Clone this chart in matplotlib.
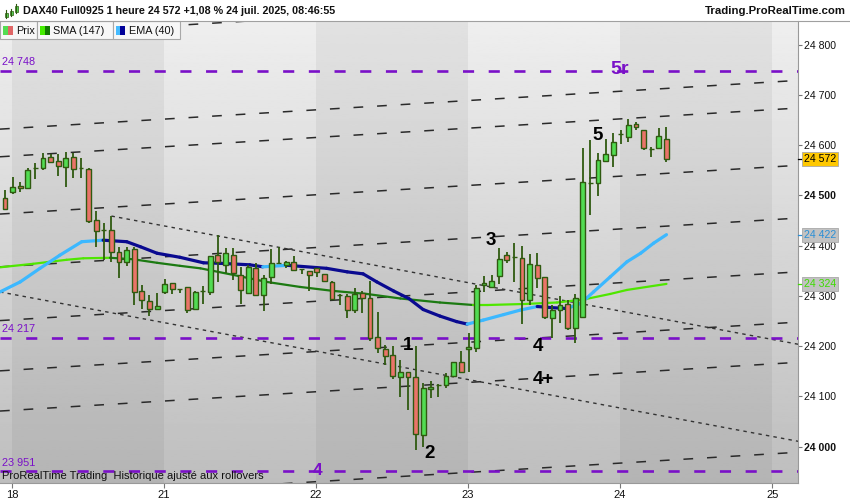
import matplotlib
matplotlib.use('Agg')
import matplotlib.pyplot as plt
import numpy as np
from matplotlib.patches import Rectangle
from matplotlib.lines import Line2D
from matplotlib.collections import LineCollection
from matplotlib.transforms import blended_transform_factory

plt.rcParams['font.family'] = ['Liberation Sans', 'DejaVu Sans']
plt.rcParams['lines.scale_dashes'] = False

# hourly bars, index 0 = last bar before the 18 juil. session
opens = [24494, 24507, 24519, 24514, 24554, 24555, 24576, 24569, 24557, 24576,
         24554, 24553, 24452, 24431, 24431, 24388, 24368, 24393, 24310, 24290,
         24274, 24308, 24325, 24314, 24318, 24275, 24310, 24308, 24381, 24362,
         24381, 24342, 24306, 24355, 24302, 24337, 24365, 24362, 24368, 24353,
         24350, 24355, 24343, 24327, 24302, 24299, 24273, 24305, 24295, 24218,
         24194, 24183, 24139, 24148, 24139, 24023, 24115, 24123, 24123, 24141,
         24169, 24194, 24196, 24322, 24317, 24340, 24382, 24377, 24375, 24292,
         24362, 24337, 24256, 24272, 24285, 24236, 24259, 24525, 24525, 24569,
         24581, 24622, 24617, 24642, 24630, 24592, 24594, 24612]
highs = [24511, 24536, 24526, 24554, 24565, 24584, 24582, 24582, 24586, 24584,
         24574, 24554, 24469, 24446, 24459, 24398, 24398, 24398, 24322, 24302,
         24305, 24333, 24325, 24314, 24318, 24309, 24320, 24380, 24421, 24395,
         24395, 24358, 24362, 24365, 24342, 24393, 24398, 24370, 24380, 24353,
         24350, 24355, 24343, 24330, 24304, 24304, 24315, 24309, 24330, 24269,
         24202, 24200, 24173, 24149, 24200, 24126, 24131, 24125, 24146, 24169,
         24190, 24226, 24322, 24340, 24342, 24395, 24388, 24406, 24399, 24384,
         24385, 24337, 24282, 24299, 24292, 24304, 24594, 24610, 24585, 24612,
         24624, 24630, 24652, 24647, 24630, 24597, 24634, 24636]
lows = [24472, 24502, 24507, 24512, 24532, 24551, 24564, 24539, 24516, 24534,
        24534, 24445, 24398, 24371, 24368, 24335, 24360, 24282, 24275, 24260,
        24274, 24304, 24304, 24306, 24267, 24275, 24285, 24302, 24328, 24345,
        24332, 24285, 24305, 24300, 24271, 24323, 24363, 24355, 24350, 24343,
        24310, 24337, 24328, 24293, 24283, 24256, 24267, 24267, 24211, 24187,
        24163, 24134, 24098, 24073, 23993, 24000, 24096, 24098, 24116, 24139,
        24148, 24149, 24189, 24307, 24315, 24324, 24365, 24327, 24244, 24282,
        24315, 24254, 24216, 24246, 24232, 24206, 24256, 24461, 24498, 24567,
        24557, 24602, 24607, 24630, 24590, 24576, 24594, 24567]
closes = [24474, 24517, 24514, 24550, 24554, 24574, 24567, 24559, 24574, 24552,
          24554, 24450, 24430, 24431, 24388, 24367, 24391, 24308, 24292, 24274,
          24280, 24324, 24313, 24314, 24273, 24308, 24310, 24380, 24368, 24385,
          24345, 24312, 24358, 24302, 24335, 24365, 24365, 24368, 24352, 24353,
          24342, 24348, 24330, 24293, 24302, 24273, 24304, 24295, 24216, 24196,
          24181, 24141, 24148, 24138, 24025, 24116, 24119, 24123, 24141, 24169,
          24149, 24198, 24315, 24325, 24330, 24373, 24372, 24377, 24292, 24364,
          24335, 24259, 24272, 24282, 24236, 24295, 24527, 24525, 24571, 24583,
          24607, 24622, 24640, 24636, 24594, 24592, 24618, 24572]

# EMA(40) and SMA(147)
ema_x = [-0.66, 2.0, 4.6, 7.2, 10.1, 12.9, 16.0, 17.8, 20.0, 23.0, 26.1, 28.3,
         32.2, 33.9, 37.1, 42.3, 45.0, 47.1, 48.9, 51.1, 53.1, 55.0, 57.2, 59.4,
         60.8, 62.9, 65.6, 67.8, 70.0, 71.7, 73.9, 75.7, 77.4, 79.6, 81.8, 83.6,
         85.3, 87.0]
ema_y = [24308, 24328, 24355, 24381, 24408, 24411, 24408, 24398, 24385, 24377,
         24366, 24365, 24362, 24358, 24361, 24355, 24348, 24344, 24328, 24310,
         24295, 24273, 24260, 24249, 24244, 24252, 24263, 24272, 24279, 24277,
         24275, 24285, 24308, 24338, 24368, 24385, 24405, 24422]
sma_x = [-0.66, 3.7, 8.1, 10.3, 13.8, 16.9, 20.0, 23.0, 25.7, 30.0, 34.4, 38.8,
         43.2, 47.6, 52.0, 57.2, 61.6, 63.4, 68.2, 72.6, 76.1, 79.6, 81.8, 87.0]
sma_y = [24357, 24364, 24372, 24375, 24376, 24373, 24366, 24360, 24355, 24342,
         24328, 24318, 24310, 24304, 24295, 24287, 24282, 24282, 24284, 24287,
         24293, 24304, 24312, 24324]

day_ticks = [0.9, 20.9, 40.9, 60.9, 80.9, 100.9]
day_labels = ['18', '21', '22', '23', '24', '25']
price_ticks = [24000, 24100, 24200, 24300, 24400, 24500, 24600, 24700, 24800]
price_labels = ['24 000', '24 100', '24 200', '24 300', '24 400', '24 500',
                '24 600', '24 700', '24 800']

levels = [24748, 24217, 23951]
level_labels = ['24 748', '24 217', '23 951']

# parallel channel lines (price at left edge / right edge)
chan_x = [-0.66, 104.3]
chan_left = [24817, 24632, 24577, 24463, 24358, 24251, 24151, 24071, 23892]
chan_right = [24914, 24729, 24674, 24560, 24455, 24348, 24248, 24168, 23989]

# descending dotted lines
trend1_x = [14, 105]
trend1_y = [24459, 24202]
trend2_x = [-0.66, 104.6]
trend2_y = [24308, 24010]

wave_text = ['1', '2', '3', '4', '4+', '5']
wave_x = [52.96, 55.9, 63.9, 70.1, 70.8, 78.0]
wave_y = [24202, 23986, 24410, 24200, 24133, 24619]

last_price = 24572
ema_last = 24422
sma_last = 24324

W, H = 850, 500
def fx(x):
    return x / W
def fy(y):
    return 1 - y / H

fig = plt.figure(figsize=(8.5, 5), dpi=100, facecolor='white')
ax = fig.add_axes([0, fy(483), fx(798), (483 - 21) / H])

xlim = (-0.66, 104.3)
ylim = (23927.8, 24847.2)

# background: vertical gradient + alternating day bands
grad = np.linspace(0.745, 0.935, 256)[:, None]
ax.imshow(grad, extent=[xlim[0], xlim[1], ylim[0], ylim[1]], origin='lower',
          aspect='auto', cmap='gray', vmin=0, vmax=1, zorder=0)
for d0 in [0.9, 40.9, 80.9]:
    ax.axvspan(d0, d0 + 20, color='black', alpha=0.05, lw=0, zorder=0.5)

# channel / trend lines
for a, b in zip(chan_left, chan_right):
    ax.plot(chan_x, [a, b], color='#2a2a2a', lw=1.1, dashes=(7, 10), zorder=1.5)
ax.plot(trend1_x, trend1_y, color='#333333', lw=1.0, dashes=(2.5, 3), zorder=1.5)
ax.plot(trend2_x, trend2_y, color='#333333', lw=1.0, dashes=(2.5, 3), zorder=1.5)

# horizontal purple levels
for lv, lab in zip(levels, level_labels):
    ax.axhline(lv, color='#7a10c8', lw=1.9, dashes=(8, 10.5), zorder=2)
    ax.annotate(lab, (2 / 798, lv), xycoords=('axes fraction', 'data'),
                xytext=(0, 2.5), textcoords='offset points', fontsize=7.8,
                color='#7a10c8', va='bottom', ha='left', zorder=6)

# indicators
def colored_line(xs, ys, up, down, lw):
    pts = np.column_stack([xs, ys])
    segs = np.stack([pts[:-1], pts[1:]], axis=1)
    cols = [up if ys[i + 1] >= ys[i] else down for i in range(len(ys) - 1)]
    ax.add_collection(LineCollection(segs, colors=cols, linewidths=lw,
                                     capstyle='round', joinstyle='round', zorder=2.5))

colored_line(sma_x, sma_y, '#4fe600', '#1c7a12', 1.6)
colored_line(ema_x, ema_y, '#3cb8ff', '#0a0a90', 2.3)

# candles
edge = '#2f5a10'
w = 0.64
for i, (o, h, l, c) in enumerate(zip(opens, highs, lows, closes)):
    ax.vlines(i, l, h, color=edge, lw=1.3, zorder=3)
    col = '#52dc52' if c >= o else '#ea7469'
    ax.add_patch(Rectangle((i - w / 2, min(o, c)), w, abs(c - o), fc=col,
                           ec=edge, lw=1.0, zorder=4))

# wave labels
for t, x, y in zip(wave_text, wave_x, wave_y):
    ax.text(x, y, t, ha='center', va='center', fontsize=13.5,
            fontweight='bold', color='black', zorder=7)
ax.text(80.8, 24751, '5r', ha='center', va='center', fontsize=14,
        fontweight='bold', color='#7a10c8', zorder=7)
ax.text(41.1, 23952, '4', ha='center', va='center', fontsize=12.5,
        fontweight='bold', color='#7a10c8', zorder=7)

ax.set_xlim(*xlim)
ax.set_ylim(*ylim)

# axes
ax.yaxis.tick_right()
ax.set_yticks(price_ticks, price_labels)
for t in ax.get_yticklabels():
    if t.get_text() in ('24 000', '24 500'):
        t.set_fontweight('bold')
        t.set_fontsize(8.6)
ax.tick_params(axis='y', direction='out', length=3, width=0.8, color='#777777',
               pad=1.5, labelsize=7.6, labelcolor='#111111')
ax.set_xticks(day_ticks, day_labels)
ax.tick_params(axis='x', direction='out', length=3.5, width=0.8, color='#777777',
               pad=1.5, labelsize=8, labelcolor='#111111')
ax.spines['left'].set_visible(False)
ax.spines['top'].set_visible(False)
ax.spines['right'].set_color('#999999')
ax.spines['bottom'].set_color('#999999')

# value tags on the price scale
trans = blended_transform_factory(ax.transAxes, ax.transData)
tags = [(last_price, '24 572', '#ffc800', '#000000'),
        (ema_last, '24 422', '#c2c2c2', '#2a8fd6'),
        (sma_last, '24 324', '#c2c2c2', '#3ddc00')]
for v, txt, fc, tc in tags:
    ax.plot([1.0, 1 + 5 / 798], [v, v], color=tc, lw=0.9, transform=trans,
            clip_on=False, zorder=9)
    ax.text(1 + 6 / 798, v, txt, transform=trans, fontsize=7.6, color=tc,
            va='center', ha='left', clip_on=False, zorder=10,
            bbox=dict(boxstyle='square,pad=0.2', fc=fc, ec='#a8a8a8', lw=0.6))

# header
fig.add_artist(Line2D([0, 1], [fy(20.5), fy(20.5)], color='#a0a0a0', lw=0.8,
                      transform=fig.transFigure))
for cx, b0, b1, w0, w1 in [(6, 13, 17, 10, 18), (11, 11, 15, 9, 16), (16, 6, 12, 4, 13)]:
    fig.add_artist(Line2D([fx(cx), fx(cx)], [fy(w1), fy(w0)], color=edge, lw=0.8,
                          transform=fig.transFigure))
    fig.add_artist(Rectangle((fx(cx - 1.5), fy(b1)), 3 / W, (b1 - b0) / H,
                             transform=fig.transFigure, fc='#52dc52', ec=edge, lw=0.5))
fig.text(fx(23), fy(11.5), 'DAX40 Full0925 1 heure 24 572 +1,08 % 24 juil. 2025, 08:46:55',
         fontsize=7.75, fontweight='bold', va='center', ha='left', color='#111111')
fig.text(fx(846), fy(11.5), 'Trading.ProRealTime.com', fontsize=8.2,
         fontweight='bold', va='center', ha='right', color='#111111')

# legend boxes
legend_boxes = [(0, 37, 'Prix', '#52dc52', '#e06666'),
                (37, 113, 'SMA (147)', '#44ee00', '#117a00'),
                (113, 180, 'EMA (40)', '#44bbff', '#000099')]
for x0, x1, lab, c1, c2 in legend_boxes:
    fig.add_artist(Rectangle((fx(x0), fy(39)), (x1 - x0) / W, 18 / H,
                             transform=fig.transFigure, fc='#f7f7f7',
                             ec='#a8a8a8', lw=0.8))
    fig.add_artist(Rectangle((fx(x0 + 2.5), fy(35)), 5 / W, 9 / H,
                             transform=fig.transFigure, fc=c1, ec='none'))
    fig.add_artist(Rectangle((fx(x0 + 7.5), fy(35)), 5 / W, 9 / H,
                             transform=fig.transFigure, fc=c2, ec='none'))
    fig.text(fx(x0 + 16), fy(30.5), lab, fontsize=7.8, va='center', ha='left',
             color='#111111')

fig.text(fx(2), fy(476), 'ProRealTime Trading  Historique ajusté aux rollovers',
         fontsize=8, va='center', ha='left', color='#111111')

fig.savefig('out.png', dpi=100, facecolor='white')
